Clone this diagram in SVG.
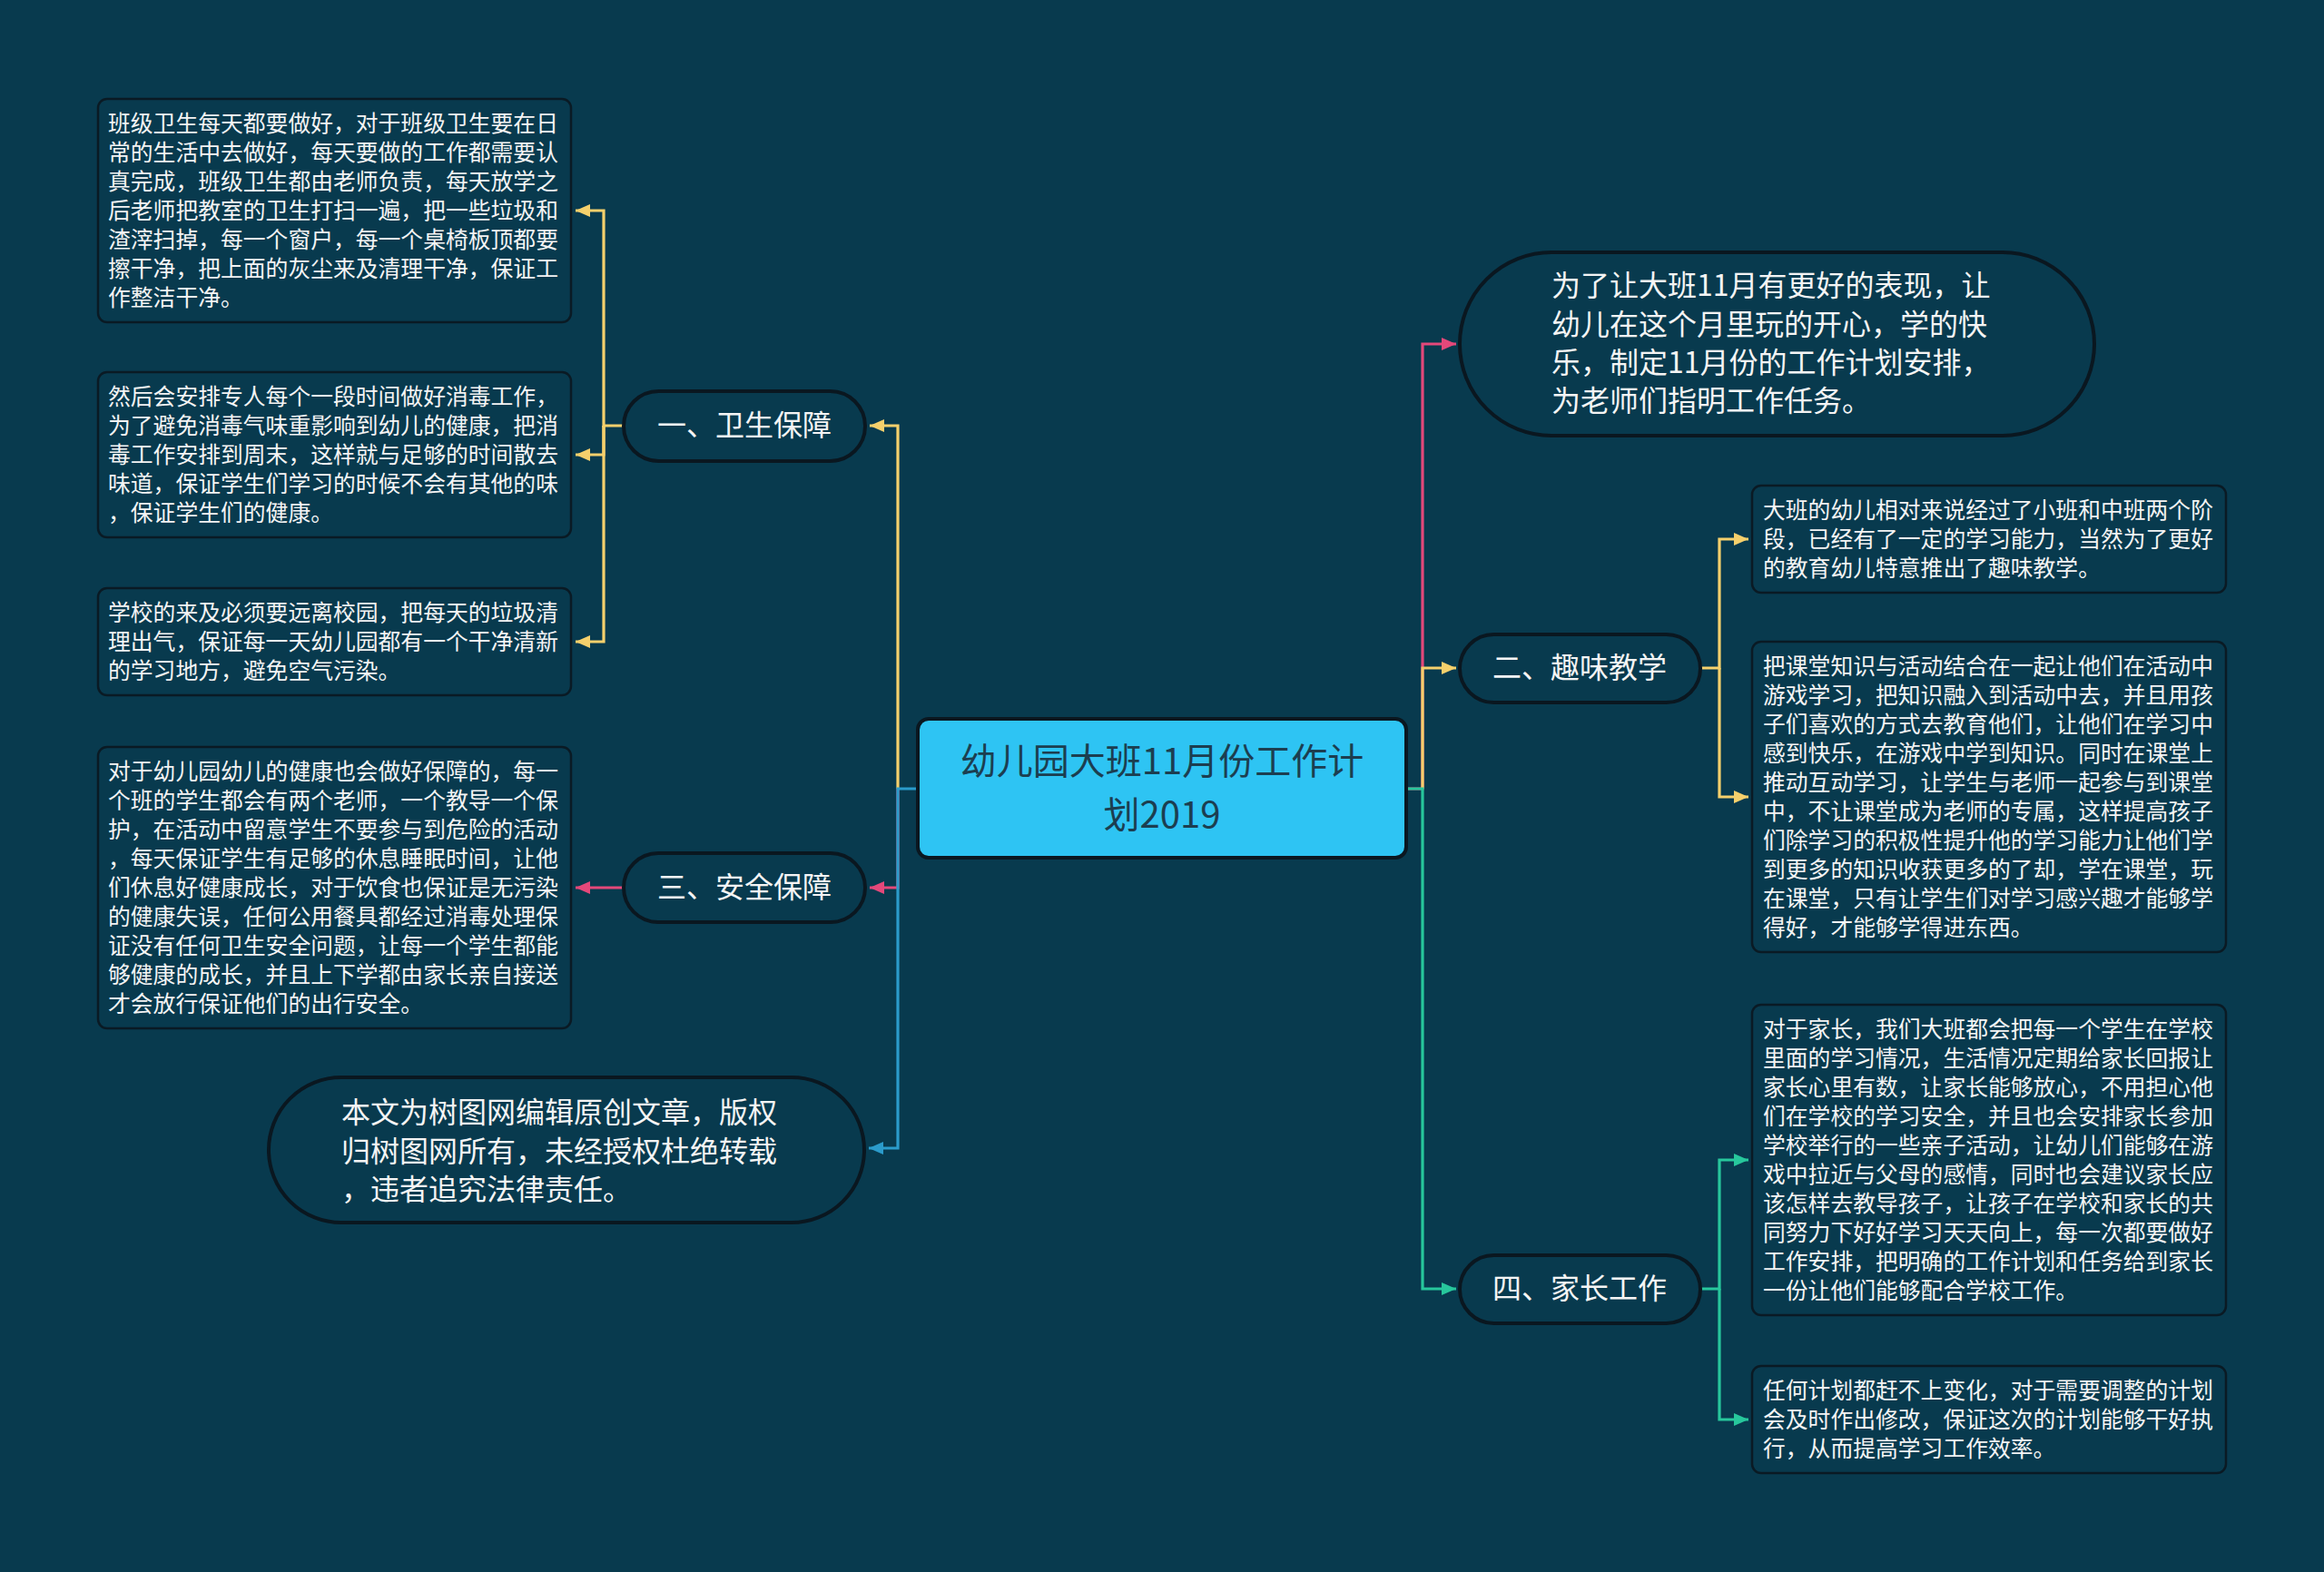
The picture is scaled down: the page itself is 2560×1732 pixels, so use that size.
<svg xmlns="http://www.w3.org/2000/svg" width="2560" height="1732" viewBox="0 0 2560 1732">
<style>
.bg{fill:#083a4e}
.pill{fill:#083a4e;stroke:#0a1720;stroke-width:4}
.leaf{fill:#083a4e;stroke:#0a1a24;stroke-width:2.5}
.lt{font-family:"Noto Sans CJK SC","Noto Sans",sans-serif;font-size:24.8px;fill:#f4f4f4}
.mt{font-family:"Noto Sans CJK SC","Noto Sans",sans-serif;font-size:32px;fill:#f4f4f4}
.ct{font-family:"Noto Sans CJK SC","Noto Sans",sans-serif;font-size:40px;fill:#1c3e50;text-anchor:middle}
.c{fill:none;stroke-width:3.2}
.y{stroke:#f5d06c}.p{stroke:#e4487a}.b{stroke:#2b9bcb}.g{stroke:#27c79c}
</style>
<defs>
<marker id="ay" markerUnits="userSpaceOnUse" markerWidth="18" markerHeight="14" refX="16" refY="7" orient="auto"><path d="M0 0 L16 7 L0 14 Z" fill="#f5d06c"/></marker>
<marker id="ap" markerUnits="userSpaceOnUse" markerWidth="18" markerHeight="14" refX="16" refY="7" orient="auto"><path d="M0 0 L16 7 L0 14 Z" fill="#e4487a"/></marker>
<marker id="ab" markerUnits="userSpaceOnUse" markerWidth="18" markerHeight="14" refX="16" refY="7" orient="auto"><path d="M0 0 L16 7 L0 14 Z" fill="#2b9bcb"/></marker>
<marker id="ag" markerUnits="userSpaceOnUse" markerWidth="18" markerHeight="14" refX="16" refY="7" orient="auto"><path d="M0 0 L16 7 L0 14 Z" fill="#27c79c"/></marker>
</defs>
<rect class="bg" x="0" y="0" width="2560" height="1732"/>

<g id="connectors">
<path class="c y" d="M989 869 V469 H958" marker-end="url(#ay)"/>
<path class="c p" d="M989 869 V978 H958" marker-end="url(#ap)"/>
<path class="c b" d="M1011 869 H989 V1265 H957" marker-end="url(#ab)"/>
<path class="c p" d="M1549 869 H1567 V379 H1604" marker-end="url(#ap)"/>
<path class="c y" d="M1567 869 V736 H1604" marker-end="url(#ay)"/>
<path class="c g" d="M1549 869 H1567 V1420 H1604" marker-end="url(#ag)"/>
<path class="c y" d="M687 469 H665 V232 H634" marker-end="url(#ay)"/>
<path class="c y" d="M665 469 V501 H634" marker-end="url(#ay)"/>
<path class="c y" d="M665 469 V707 H634" marker-end="url(#ay)"/>
<path class="c p" d="M687 978 H634" marker-end="url(#ap)"/>
<path class="c y" d="M1873 736 H1894 V594 H1926" marker-end="url(#ay)"/>
<path class="c y" d="M1894 736 V878 H1926" marker-end="url(#ay)"/>
<path class="c g" d="M1873 1420 H1894 V1278 H1926" marker-end="url(#ag)"/>
<path class="c g" d="M1894 1420 V1564 H1926" marker-end="url(#ag)"/>
</g>

<g id="center">
<rect x="1011" y="792" width="538" height="153" rx="12" fill="#2ec4f3" stroke="#0a1720" stroke-width="4"/>
<text class="ct"><tspan x="1280" y="853">幼儿园大班11月份工作计</tspan><tspan x="1280" y="912">划2019</tspan></text>
</g>

<g id="n1">
<rect class="pill" x="687" y="431" width="266" height="77" rx="38.5"/>
<text class="mt" x="820" y="480" text-anchor="middle">一、卫生保障</text>
</g>
<g id="n3">
<rect class="pill" x="687" y="940" width="266" height="76" rx="38"/>
<text class="mt" x="820" y="989" text-anchor="middle">三、安全保障</text>
</g>
<g id="ncopy">
<rect class="pill" x="296" y="1187" width="656" height="160" rx="80"/>
<text class="mt" x="376" y="1237">本文为树图网编辑原创文章，版权</text>
<text class="mt" x="376" y="1280">归树图网所有，未经授权杜绝转载</text>
<text class="mt" x="376" y="1322">，违者追究法律责任。</text>
</g>
<g id="nintro">
<rect class="pill" x="1608" y="278" width="699" height="202" rx="101"/>
<text class="mt" x="1709" y="326">为了让大班11月有更好的表现，让</text>
<text class="mt" x="1709" y="369">幼儿在这个月里玩的开心，学的快</text>
<text class="mt" x="1709" y="411">乐，制定11月份的工作计划安排，</text>
<text class="mt" x="1709" y="453">为老师们指明工作任务。</text>
</g>
<g id="n2">
<rect class="pill" x="1608" y="699" width="265" height="75" rx="37.5"/>
<text class="mt" x="1740" y="747" text-anchor="middle">二、趣味教学</text>
</g>
<g id="n4">
<rect class="pill" x="1608" y="1383" width="265" height="75" rx="37.5"/>
<text class="mt" x="1740" y="1431" text-anchor="middle">四、家长工作</text>
</g>

<g id="l1">
<rect class="leaf" x="108" y="109" width="521" height="246" rx="10"/>
<text class="lt" x="119" y="145">班级卫生每天都要做好，对于班级卫生要在日</text>
<text class="lt" x="119" y="177">常的生活中去做好，每天要做的工作都需要认</text>
<text class="lt" x="119" y="209">真完成，班级卫生都由老师负责，每天放学之</text>
<text class="lt" x="119" y="241">后老师把教室的卫生打扫一遍，把一些垃圾和</text>
<text class="lt" x="119" y="273">渣滓扫掉，每一个窗户，每一个桌椅板顶都要</text>
<text class="lt" x="119" y="305">擦干净，把上面的灰尘来及清理干净，保证工</text>
<text class="lt" x="119" y="337">作整洁干净。</text>
</g>
<g id="l2">
<rect class="leaf" x="108" y="410" width="521" height="182" rx="10"/>
<text class="lt" x="119" y="446">然后会安排专人每个一段时间做好消毒工作，</text>
<text class="lt" x="119" y="478">为了避免消毒气味重影响到幼儿的健康，把消</text>
<text class="lt" x="119" y="510">毒工作安排到周末，这样就与足够的时间散去</text>
<text class="lt" x="119" y="542">味道，保证学生们学习的时候不会有其他的味</text>
<text class="lt" x="119" y="574">，保证学生们的健康。</text>
</g>
<g id="l3">
<rect class="leaf" x="108" y="648" width="521" height="118" rx="10"/>
<text class="lt" x="119" y="684">学校的来及必须要远离校园，把每天的垃圾清</text>
<text class="lt" x="119" y="716">理出气，保证每一天幼儿园都有一个干净清新</text>
<text class="lt" x="119" y="748">的学习地方，避免空气污染。</text>
</g>
<g id="l4">
<rect class="leaf" x="108" y="823" width="521" height="310" rx="10"/>
<text class="lt" x="119" y="859">对于幼儿园幼儿的健康也会做好保障的，每一</text>
<text class="lt" x="119" y="891">个班的学生都会有两个老师，一个教导一个保</text>
<text class="lt" x="119" y="923">护，在活动中留意学生不要参与到危险的活动</text>
<text class="lt" x="119" y="955">，每天保证学生有足够的休息睡眠时间，让他</text>
<text class="lt" x="119" y="987">们休息好健康成长，对于饮食也保证是无污染</text>
<text class="lt" x="119" y="1019">的健康失误，任何公用餐具都经过消毒处理保</text>
<text class="lt" x="119" y="1051">证没有任何卫生安全问题，让每一个学生都能</text>
<text class="lt" x="119" y="1083">够健康的成长，并且上下学都由家长亲自接送</text>
<text class="lt" x="119" y="1115">才会放行保证他们的出行安全。</text>
</g>
<g id="ra">
<rect class="leaf" x="1930" y="535" width="522" height="118" rx="10"/>
<text class="lt" x="1942" y="571">大班的幼儿相对来说经过了小班和中班两个阶</text>
<text class="lt" x="1942" y="603">段，已经有了一定的学习能力，当然为了更好</text>
<text class="lt" x="1942" y="635">的教育幼儿特意推出了趣味教学。</text>
</g>
<g id="rb">
<rect class="leaf" x="1930" y="707" width="522" height="342" rx="10"/>
<text class="lt" x="1942" y="743">把课堂知识与活动结合在一起让他们在活动中</text>
<text class="lt" x="1942" y="775">游戏学习，把知识融入到活动中去，并且用孩</text>
<text class="lt" x="1942" y="807">子们喜欢的方式去教育他们，让他们在学习中</text>
<text class="lt" x="1942" y="839">感到快乐，在游戏中学到知识。同时在课堂上</text>
<text class="lt" x="1942" y="871">推动互动学习，让学生与老师一起参与到课堂</text>
<text class="lt" x="1942" y="903">中，不让课堂成为老师的专属，这样提高孩子</text>
<text class="lt" x="1942" y="935">们除学习的积极性提升他的学习能力让他们学</text>
<text class="lt" x="1942" y="967">到更多的知识收获更多的了却，学在课堂，玩</text>
<text class="lt" x="1942" y="999">在课堂，只有让学生们对学习感兴趣才能够学</text>
<text class="lt" x="1942" y="1031">得好，才能够学得进东西。</text>
</g>
<g id="rc">
<rect class="leaf" x="1930" y="1107" width="522" height="342" rx="10"/>
<text class="lt" x="1942" y="1143">对于家长，我们大班都会把每一个学生在学校</text>
<text class="lt" x="1942" y="1175">里面的学习情况，生活情况定期给家长回报让</text>
<text class="lt" x="1942" y="1207">家长心里有数，让家长能够放心，不用担心他</text>
<text class="lt" x="1942" y="1239">们在学校的学习安全，并且也会安排家长参加</text>
<text class="lt" x="1942" y="1271">学校举行的一些亲子活动，让幼儿们能够在游</text>
<text class="lt" x="1942" y="1303">戏中拉近与父母的感情，同时也会建议家长应</text>
<text class="lt" x="1942" y="1335">该怎样去教导孩子，让孩子在学校和家长的共</text>
<text class="lt" x="1942" y="1367">同努力下好好学习天天向上，每一次都要做好</text>
<text class="lt" x="1942" y="1399">工作安排，把明确的工作计划和任务给到家长</text>
<text class="lt" x="1942" y="1431">一份让他们能够配合学校工作。</text>
</g>
<g id="rd">
<rect class="leaf" x="1930" y="1505" width="522" height="118" rx="10"/>
<text class="lt" x="1942" y="1541">任何计划都赶不上变化，对于需要调整的计划</text>
<text class="lt" x="1942" y="1573">会及时作出修改，保证这次的计划能够干好执</text>
<text class="lt" x="1942" y="1605">行，从而提高学习工作效率。</text>
</g>
</svg>
